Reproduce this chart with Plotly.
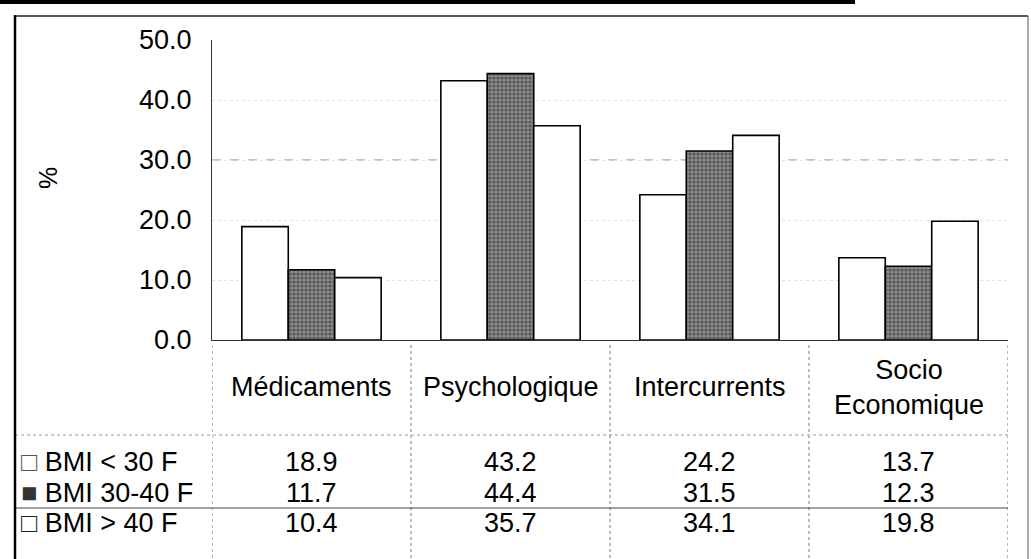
import plotly.graph_objects as go

categories = ["Médicaments", "Psychologique", "Intercurrents", "Socio Economique"]
category_labels = ["Médicaments", "Psychologique", "Intercurrents", "Socio<br>Economique"]
series_names = ["BMI < 30 F", "BMI 30-40 F", "BMI > 40 F"]
bmi_lt30 = [18.9, 43.2, 24.2, 13.7]
bmi_30_40 = [11.7, 44.4, 31.5, 12.3]
bmi_gt40 = [10.4, 35.7, 34.1, 19.8]
y_ticks = [0, 10, 20, 30, 40, 50]

FONT = "Liberation Sans, Arial, sans-serif"
FS = 27

fig = go.Figure()
fig.add_trace(go.Bar(x=categories, y=bmi_lt30, name=series_names[0],
                     marker=dict(color="white", line=dict(color="black", width=1.6))))
fig.add_trace(go.Bar(x=categories, y=bmi_30_40, name=series_names[1],
                     marker=dict(color="#8a8a8a", line=dict(color="black", width=1.6),
                                 pattern=dict(shape=".", fgcolor="#222", size=4, solidity=0.5))))
fig.add_trace(go.Bar(x=categories, y=bmi_gt40, name=series_names[2],
                     marker=dict(color="white", line=dict(color="black", width=1.6))))

fig.update_layout(
    width=1031, height=559,
    margin=dict(l=212, r=23, t=40, b=219),
    paper_bgcolor="white", plot_bgcolor="white",
    barmode="group", bargap=0.30, bargroupgap=0,
    showlegend=False,
    font=dict(family=FONT, size=FS, color="black"),
)
fig.update_yaxes(range=[0, 50], tickvals=y_ticks, ticktext=[f"{v:.1f}" for v in y_ticks],
                 showline=True, linecolor="#333", linewidth=1.2,
                 showgrid=True, gridcolor="#e2e2e2", griddash="dot", gridwidth=1,
                 ticks="outside", ticklen=14, tickcolor="rgba(0,0,0,0)",
                 tickfont=dict(size=FS), zeroline=False)
fig.update_xaxes(showticklabels=False, showline=True, linecolor="#333", linewidth=1.2,
                 range=[-0.5, 3.5], showgrid=False)

def py(p):
    return (340 - p) / 300

def px(p):
    return (p - 212) / 796

# Visible scanned gridline at 30
fig.add_shape(type="line", xref="paper", yref="y", x0=0, x1=1, y0=30, y1=30,
              line=dict(color="#888", width=1, dash="dash"), layer="below")

# Y title
fig.add_annotation(text="%", textangle=-90, xref="paper", yref="paper",
                   x=px(32), y=py(178), showarrow=False, font=dict(size=FS - 2))

# Table header row
for cat, lab in zip(categories, category_labels):
    fig.add_annotation(text=lab, xref="x", yref="paper", x=cat, y=py(387),
                       showarrow=False, yanchor="middle", font=dict(size=FS))

# Table data rows
rows = [bmi_lt30, bmi_30_40, bmi_gt40]
row_y = [462, 493, 523]
keys = ["□", "■", "□"]
key_colors = ["#555", "#333", "#222"]
for name, vals, yy, k, kc in zip(series_names, rows, row_y, keys, key_colors):
    yp = py(yy)
    fig.add_annotation(text=f"<span style='color:{kc}'>{k}</span> {name}", xref="paper", yref="paper",
                       x=px(19), y=yp, xanchor="left", yanchor="middle",
                       showarrow=False, font=dict(size=FS))
    for cat, v in zip(categories, vals):
        fig.add_annotation(text=f"{v:.1f}", xref="x", yref="paper", x=cat, y=yp,
                           showarrow=False, yanchor="middle", font=dict(size=FS))

# Table grid lines
for xb in [-0.5, 0.5, 1.5, 2.5, 3.5]:
    fig.add_shape(type="line", xref="x", yref="paper", x0=xb, x1=xb,
                  y0=py(345), y1=py(559),
                  line=dict(color="#777", width=1, dash="dot"))
fig.add_shape(type="line", xref="paper", yref="paper", x0=px(15), x1=1.0,
              y0=py(435), y1=py(435), line=dict(color="#999", width=1, dash="dot"))
fig.add_shape(type="line", xref="paper", yref="paper", x0=px(15), x1=1.0,
              y0=py(508), y1=py(508), line=dict(color="#444", width=1))

# Outer frame
fig.add_shape(type="line", xref="paper", yref="paper", x0=px(15), x1=px(15),
              y0=py(15), y1=py(559), line=dict(color="black", width=2.5))
fig.add_shape(type="line", xref="paper", yref="paper", x0=px(15), x1=px(1028),
              y0=py(16), y1=py(16), line=dict(color="#222", width=1.5))
fig.add_shape(type="line", xref="paper", yref="paper", x0=px(1028), x1=px(1028),
              y0=py(16), y1=py(559), line=dict(color="#555", width=1))
# Top thick rule
fig.add_shape(type="line", xref="paper", yref="paper", x0=px(0), x1=px(855),
              y0=py(2), y1=py(2), line=dict(color="black", width=4))

fig.write_html("out.html", config={"displayModeBar": False},
               post_script="document.body.style.margin='0';document.body.style.overflow='hidden';")
